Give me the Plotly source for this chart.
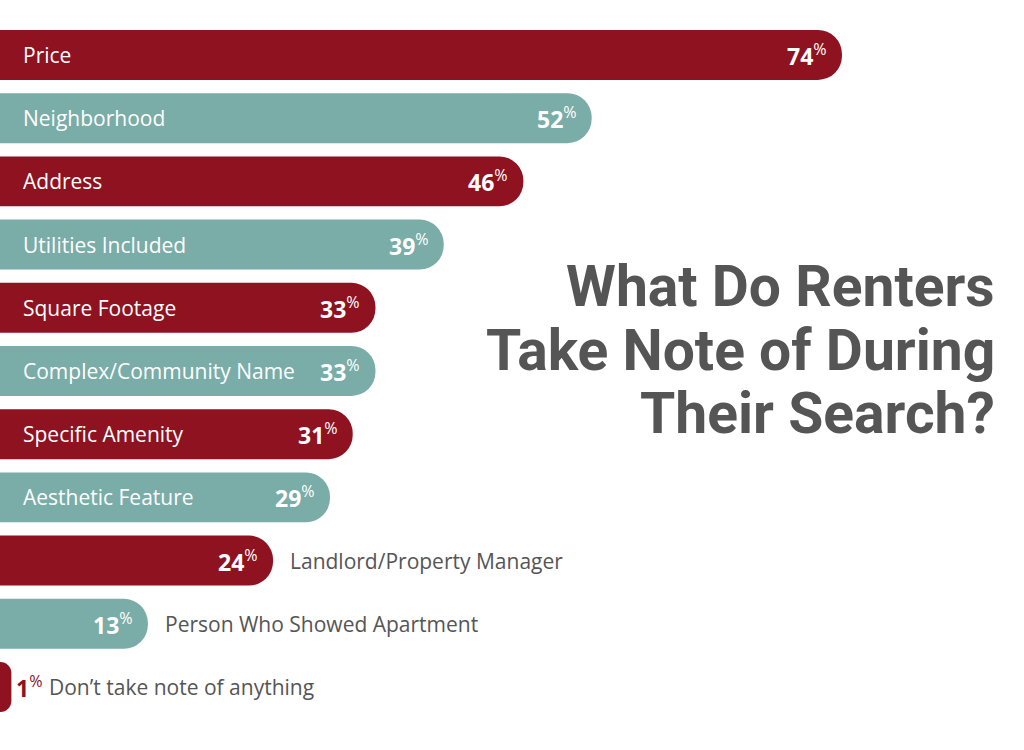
import plotly.graph_objects as go

categories = [
    "Price",
    "Neighborhood",
    "Address",
    "Utilities Included",
    "Square Footage",
    "Complex/Community Name",
    "Specific Amenity",
    "Aesthetic Feature",
    "Landlord/Property Manager",
    "Person Who Showed Apartment",
    "Don’t take note of anything",
]
values = [74, 52, 46, 39, 33, 33, 31, 29, 24, 13, 1]
title_lines = ["What Do Renters", "Take Note of During", "Their Search?"]

RED = "#8E1220"
TEAL = "#7AACA8"
GRAY = "#555555"
colors = [RED if i % 2 == 0 else TEAL for i in range(len(values))]

X_MAX = 90.0  # axis extent (percent)
INSIDE_MIN = 29  # names drawn inside bars for values >= this

fig = go.Figure(
    go.Bar(
        x=values,
        y=categories,
        orientation="h",
        marker=dict(color=colors, line=dict(width=0)),
        hoverinfo="skip",
    )
)

annotations = []
for cat, v, col in zip(categories, values, colors):
    if v >= INSIDE_MIN:
        annotations.append(dict(
            x=0, y=cat, xref="x", yref="y", text=cat, showarrow=False,
            xanchor="left", xshift=21,
            font=dict(family="Open Sans", size=21, color="white"),
        ))
    if v >= 5:
        annotations.append(dict(
            x=v, y=cat, xref="x", yref="y", text=f"<b>{v}</b><sup>%</sup>",
            showarrow=False, xanchor="right", xshift=-13,
            font=dict(family="Open Sans", size=23, color="white"),
        ))
        name_shift = 15
    else:
        annotations.append(dict(
            x=v, y=cat, xref="x", yref="y", text=f"<b>{v}</b><sup>%</sup>",
            showarrow=False, xanchor="left", xshift=3,
            font=dict(family="Open Sans", size=23, color=col),
        ))
        name_shift = 36
    if v < INSIDE_MIN:
        annotations.append(dict(
            x=v, y=cat, xref="x", yref="y", text=cat, showarrow=False,
            xanchor="left", xshift=name_shift,
            font=dict(family="Open Sans", size=21, color=GRAY),
        ))

title_y = [0.618, 0.533, 0.449]
for line, ty in zip(title_lines, title_y):
    annotations.append(dict(
        x=997 / 1024, y=ty, xref="paper", yref="paper", text=f"<b>{line}</b>",
        showarrow=False, xanchor="right", yanchor="middle",
        font=dict(family="Roboto", size=57, color=GRAY),
    ))

fig.update_layout(
    width=1024,
    height=750,
    margin=dict(l=0, r=0, t=0, b=0),
    paper_bgcolor="white",
    plot_bgcolor="white",
    bargap=0.21,
    barcornerradius=25,
    showlegend=False,
    hovermode=False,
    xaxis=dict(range=[0, X_MAX], visible=False, fixedrange=True),
    yaxis=dict(range=[10.997, -0.870], visible=False, fixedrange=True),
    annotations=annotations,
)

fig.write_html(
    "out.html",
    config={"displayModeBar": False, "staticPlot": True},
    post_script="document.body.style.margin='0';document.body.style.overflow='hidden';",
)
